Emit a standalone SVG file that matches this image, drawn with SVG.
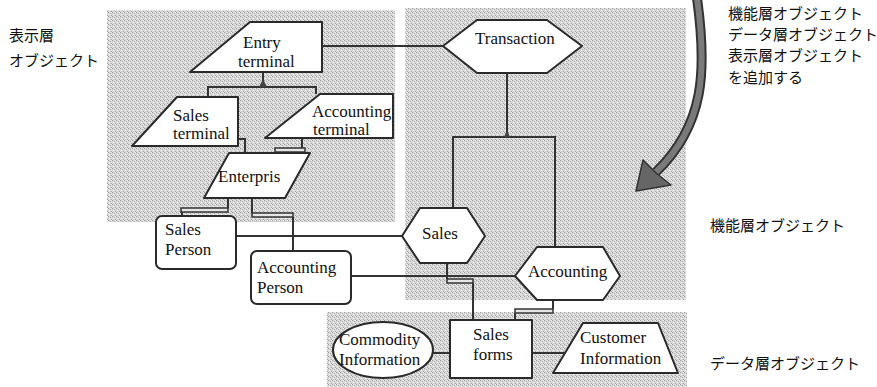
<svg xmlns="http://www.w3.org/2000/svg" width="877" height="387" viewBox="0 0 877 387">
<style>
.shape{fill:#fff;stroke:#2a2a2a;stroke-width:2;stroke-linejoin:round}
.con{fill:none;stroke:#333;stroke-width:2}
.dbl{fill:#e6e6e6;stroke:#333;stroke-width:1.5}
.lbl{font-family:"Liberation Serif","Times New Roman",serif;font-size:17px;fill:#111}
.jp{font-family:"Noto Sans CJK JP","Noto Sans",sans-serif;font-size:15px;fill:#111}
</style>
<defs>
<pattern id="dots" width="4" height="4" patternUnits="userSpaceOnUse">
<rect width="4" height="4" fill="#d8d8d8"/>
<rect x="0" y="0" width="1" height="1" fill="#9c9c9c"/>
<rect x="2" y="1" width="1" height="1" fill="#b0b0b0"/>
<rect x="1" y="2" width="1" height="1" fill="#f2f2f2"/>
<rect x="3" y="3" width="1" height="1" fill="#a6a6a6"/>
<rect x="3" y="0" width="1" height="1" fill="#efefef"/>
</pattern>
</defs>
<rect width="877" height="387" fill="#fff"/>
<g id="regions">
<rect x="107" y="10" width="288" height="212" fill="url(#dots)"/>
<rect x="405" y="8" width="281" height="292" fill="url(#dots)"/>
<rect x="327" y="312" width="360" height="75" fill="url(#dots)"/>
</g>
<g id="connectors">
<path class="con" d="M322,46 H443"/>
<path class="con" d="M263,72 V87 M208,97 V87 H316 V94"/>
<polygon points="263,79 259,87 267,87" fill="#444"/>
<path class="con" d="M238,139 H245 V153"/>
<path class="con" d="M302,138 V148"/>
<rect class="dbl" x="275" y="148" width="30" height="4"/>
<path class="con" d="M507,73 V137 M453,208 V137 H555 V247"/>
<polygon points="507,130 504,137 510,137" fill="#444"/>
<path class="con" d="M228,198 V208 M182,212 V216"/>
<rect class="dbl" x="181" y="208" width="47" height="4"/>
<path class="con" d="M252,198 V213 M293,217 V251"/>
<rect class="dbl" x="252" y="213" width="41" height="4"/>
<path class="con" d="M236,236 H402"/>
<path class="con" d="M351,276 H515"/>
<path class="con" d="M447,263 V279 M473,283 V320"/>
<rect class="dbl" x="447" y="279" width="26" height="4"/>
<path class="con" d="M553,300 V309 M515,313 V320"/>
<rect class="dbl" x="515" y="309" width="38" height="4"/>
<path class="con" d="M433,353 H450"/>
<path class="con" d="M532,353 H566"/>
</g>
<g id="entry-terminal">
<polygon class="shape" points="250,22 322,22 322,72 190,72"/>
<text class="lbl" x="243" y="48">Entry</text>
<text class="lbl" x="238" y="67">terminal</text>
</g>
<g id="transaction">
<polygon class="shape" points="443,46 477,20 547,20 582,46 547,73 477,73"/>
<text class="lbl" x="475" y="44">Transaction</text>
</g>
<g id="sales-terminal">
<polygon class="shape" points="177,97 238,97 238,146 132,146"/>
<text class="lbl" x="173" y="121">Sales</text>
<text class="lbl" x="173" y="139">terminal</text>
</g>
<g id="accounting-terminal">
<polygon class="shape" points="320,94 393,94 393,138 265,138"/>
<text class="lbl" x="312" y="117">Accounting</text>
<text class="lbl" x="313" y="135">terminal</text>
</g>
<g id="enterpris">
<polygon class="shape" points="229,153 310,153 285,198 204,198"/>
<text class="lbl" x="218" y="182">Enterpris</text>
</g>
<g id="sales-person">
<rect class="shape" x="156" y="216" width="80" height="53" rx="6"/>
<text class="lbl" x="165" y="235">Sales</text>
<text class="lbl" x="165" y="255">Person</text>
</g>
<g id="accounting-person">
<rect class="shape" x="251" y="251" width="100" height="53" rx="6"/>
<text class="lbl" x="257" y="273">Accounting</text>
<text class="lbl" x="257" y="293">Person</text>
</g>
<g id="sales">
<polygon class="shape" points="402,236 420,208 467,208 485,236 467,263 420,263"/>
<text class="lbl" x="422" y="239">Sales</text>
</g>
<g id="accounting">
<polygon class="shape" points="515,276 537,247 603,247 620,276 603,300 537,300"/>
<text class="lbl" x="528" y="277">Accounting</text>
</g>
<g id="sales-forms">
<rect class="shape" x="450" y="320" width="82" height="58"/>
<text class="lbl" x="473" y="340">Sales</text>
<text class="lbl" x="473" y="360">forms</text>
</g>
<g id="commodity-information">
<ellipse class="shape" cx="383" cy="350" rx="50" ry="28"/>
<text class="lbl" x="339" y="345">Commodity</text>
<text class="lbl" x="339" y="365">Information</text>
</g>
<g id="customer-information">
<polygon class="shape" points="583,323 658,323 678,373 553,373"/>
<text class="lbl" x="580" y="343">Customer</text>
<text class="lbl" x="580" y="364">Information</text>
</g>
<g id="arrow">
<path d="M697,-2 C707,70 705,125 656,172" fill="none" stroke="#333" stroke-width="10"/>
<path d="M697,-2 C707,70 705,125 656,172" fill="none" stroke="#7a7a7a" stroke-width="6"/>
<polygon points="636,191 643,160 656,173 671,185" fill="#666" stroke="#333" stroke-width="1.5" stroke-linejoin="round"/>
</g>
<g id="labels">
<text class="jp" x="9" y="41">表示層</text>
<text class="jp" x="9" y="66">オブジェクト</text>
<text class="jp" x="728" y="19">機能層オブジェクト</text>
<text class="jp" x="728" y="40">データ層オブジェクト</text>
<text class="jp" x="728" y="61">表示層オブジェクト</text>
<text class="jp" x="728" y="83">を追加する</text>
<text class="jp" x="710" y="231">機能層オブジェクト</text>
<text class="jp" x="710" y="369">データ層オブジェクト</text>
</g>
</svg>
